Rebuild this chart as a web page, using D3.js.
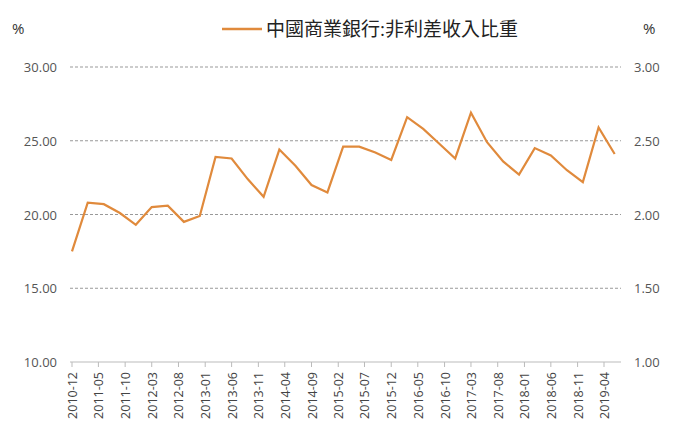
<!DOCTYPE html><html><head><meta charset="utf-8"><script src="https://cdn.jsdelivr.net/npm/d3@7"></script>
<style>body{margin:0;background:#fff}text{font-family:"Open Sans","Noto Sans CJK TC",sans-serif}</style></head><body>
<svg id="c" width="680" height="446"></svg>
<script>
const dates=["2010-12","2011-03","2011-06","2011-09","2011-12","2012-03","2012-06","2012-09","2012-12","2013-03","2013-06","2013-09","2013-12","2014-03","2014-06","2014-09","2014-12","2015-03","2015-06","2015-09","2015-12","2016-03","2016-06","2016-09","2016-12","2017-03","2017-06","2017-09","2017-12","2018-03","2018-06","2018-09","2018-12","2019-03","2019-06"];
const values=[17.5,20.8,20.7,20.1,19.3,20.5,20.6,19.5,19.9,23.9,23.8,22.4,21.2,24.4,23.3,22.0,21.5,24.6,24.6,24.2,23.7,26.6,25.8,24.8,23.8,26.9,24.9,23.6,22.7,24.5,24.0,23.0,22.2,25.9,24.1];
const tickLabels=["2010-12","2011-05","2011-10","2012-03","2012-08","2013-01","2013-06","2013-11","2014-04","2014-09","2015-02","2015-07","2015-12","2016-05","2016-10","2017-03","2017-08","2018-01","2018-06","2018-11","2019-04"];
const leftTicks=[10,15,20,25,30], rightTicks=[1,1.5,2,2.5,3];
const seriesName="中國商業銀行:非利差收入比重";
const p=d3.timeParse("%Y-%m");
const svg=d3.select("#c");
const x=d3.scaleTime().domain([p("2010-12"),p("2019-04")]).range([72,604]);
const y=d3.scaleLinear().domain([10,30]).range([362,67]);
const y2=d3.scaleLinear().domain([1,3]).range([362,67]);
const col="#E08A3C";
leftTicks.slice(1).forEach(t=>svg.append("line").attr("x1",70).attr("x2",621).attr("y1",y(t)).attr("y2",y(t)).attr("stroke","#999").attr("stroke-dasharray","3,2"));
svg.append("line").attr("x1",70).attr("x2",621).attr("y1",y(10)).attr("y2",y(10)).attr("stroke","#bbb");
leftTicks.forEach(t=>svg.append("text").attr("x",57).attr("y",y(t)+5).attr("text-anchor","end").attr("font-size",13).attr("fill","#555").text(t.toFixed(2)));
rightTicks.forEach(t=>svg.append("text").attr("x",634).attr("y",y2(t)+5).attr("font-size",13).attr("fill","#555").text(t.toFixed(2)));
tickLabels.forEach(t=>{const xx=x(p(t));
 svg.append("line").attr("x1",xx).attr("x2",xx).attr("y1",362).attr("y2",367).attr("stroke","#bbb");
 svg.append("text").attr("transform",`translate(${xx+5},372) rotate(-90)`).attr("text-anchor","end").attr("font-size",12.5).attr("fill","#444").text(t);});
svg.append("path").datum(values).attr("fill","none").attr("stroke",col).attr("stroke-width",2.2)
 .attr("d",d3.line().x((d,i)=>x(p(dates[i]))).y(d=>y(d)));
svg.append("text").attr("x",12).attr("y",34).attr("font-size",15).attr("fill","#333").text("%");
svg.append("text").attr("x",643).attr("y",34).attr("font-size",15).attr("fill","#333").text("%");
svg.append("line").attr("x1",222).attr("x2",262).attr("y1",29).attr("y2",29).attr("stroke",col).attr("stroke-width",2.5);
svg.append("text").attr("x",266).attr("y",36).attr("font-size",19).attr("fill","#222").text(seriesName);
</script></body></html>
